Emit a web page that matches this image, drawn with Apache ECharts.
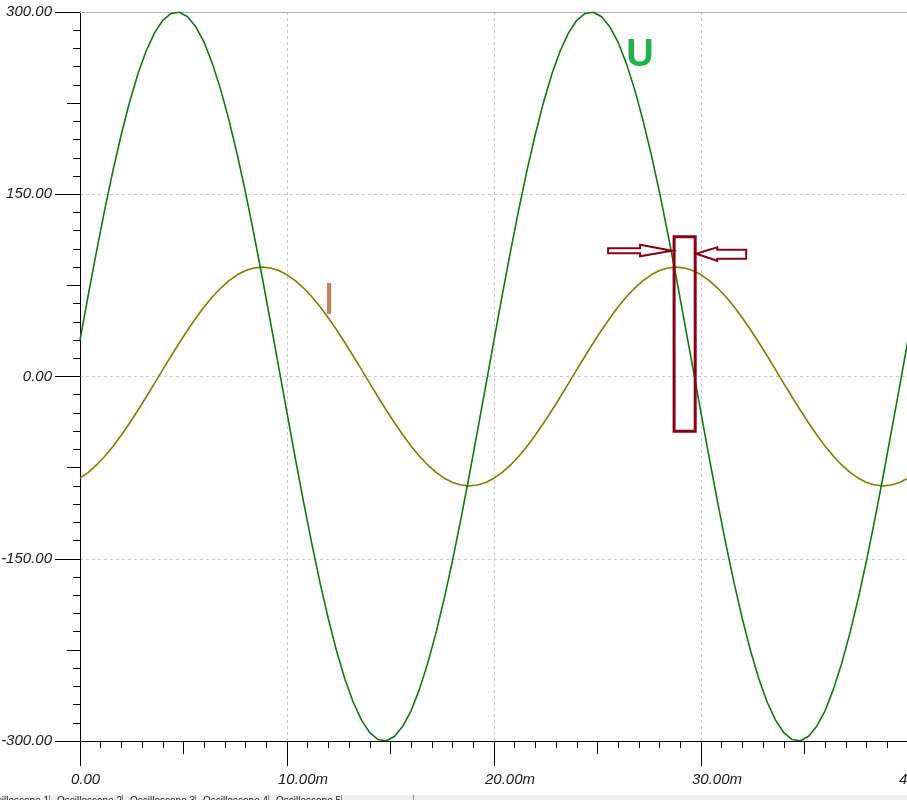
<!DOCTYPE html>
<html><head><meta charset="utf-8">
<script src="https://cdn.jsdelivr.net/npm/echarts@6/dist/echarts.min.js"></script>
<style>html,body{margin:0;padding:0;background:#fff}#c{width:907px;height:800px}</style>
</head><body><div id="c"></div>
<script>
// time in ms
const times = [0,0.4,0.8,1.2,1.6,2,2.4,2.8,3.2,3.6,
4,4.4,4.8,5.2,5.6,6,6.4,6.8,7.2,7.6,
8,8.4,8.8,9.2,9.6,10,10.4,10.8,11.2,11.6,
12,12.4,12.8,13.2,13.6,14,14.4,14.8,15.2,15.6,
16,16.4,16.8,17.2,17.6,18,18.4,18.8,19.2,19.6,
20,20.4,20.8,21.2,21.6,22,22.4,22.8,23.2,23.6,
24,24.4,24.8,25.2,25.6,26,26.4,26.8,27.2,27.6,
28,28.4,28.8,29.2,29.6,30,30.4,30.8,31.2,31.6,
32,32.4,32.8,33.2,33.6,34,34.4,34.8,35.2,35.6,
36,36.4,36.8,37.2,37.6,38,38.4,38.8,39.2,39.6,
40];
const voltageU = [30,67.1,103.2,137.7,170.1,199.6,226.2,249.1,268.1,282.8,
293.2,298.8,299.8,296.1,287.6,274.9,257.3,235.9,210.8,182.4,
151.2,117.4,81.9,45.0,7.7,-30,-67.1,-103.2,-137.7,-170.1,
-199.6,-226.2,-249.1,-268.1,-282.8,-293.2,-298.8,-299.8,-296.1,-287.6,
-274.9,-257.3,-235.9,-210.8,-182.4,-151.2,-117.4,-81.9,-45.0,-7.7,
30,67.1,103.2,137.7,170.1,199.6,226.2,249.1,268.1,282.8,
293.2,298.8,299.8,296.1,287.6,274.9,257.3,235.9,210.8,182.4,
151.2,117.4,81.9,45.0,7.7,-30,-67.1,-103.2,-137.7,-170.1,
-199.6,-226.2,-249.1,-268.1,-282.8,-293.2,-298.8,-299.8,-296.1,-287.6,
-274.9,-257.3,-235.9,-210.8,-182.4,-151.2,-117.4,-81.9,-45.0,-7.7,
30];
const currentI = [-83.7,-78.9,-72.8,-65.6,-57.4,-48.2,-38.3,-27.8,-16.9,-5.7,
5.7,16.9,27.8,38.3,48.2,57.4,65.6,72.8,78.9,83.7,
87.2,89.3,90,89.3,87.2,83.7,78.9,72.8,65.6,57.4,
48.2,38.3,27.8,16.9,5.7,-5.7,-16.9,-27.8,-38.3,-48.2,
-57.4,-65.6,-72.8,-78.9,-83.7,-87.2,-89.3,-90,-89.3,-87.2,
-83.7,-78.9,-72.8,-65.6,-57.4,-48.2,-38.3,-27.8,-16.9,-5.7,
5.7,16.9,27.8,38.3,48.2,57.4,65.6,72.8,78.9,83.7,
87.2,89.3,90,89.3,87.2,83.7,78.9,72.8,65.6,57.4,
48.2,38.3,27.8,16.9,5.7,-5.7,-16.9,-27.8,-38.3,-48.2,
-57.4,-65.6,-72.8,-78.9,-83.7,-87.2,-89.3,-90,-89.3,-87.2,
-83.7];
const xTickLabels = ['0.00','10.00m','20.00m','30.00m','40.00m'];
const tabNames = ['Oscilloscope 1','Oscilloscope 2','Oscilloscope 3','Oscilloscope 4','Oscilloscope 5'];
// annotation box in data coords (time ms, value)
const markBox = [[28.7,115],[29.72,-45]];

const chart = echarts.init(document.getElementById('c'), null, {renderer:'canvas'});
const labelFont = {fontFamily:'Liberation Sans, Arial, sans-serif', fontStyle:'italic', fontSize:15, color:'#1a1a1a'};
const black = {color:'#000', width:1};
const zip = (xs, ys) => xs.map((x,i)=>[x, ys[i]]);

const option = {
  animation:false,
  backgroundColor:'#fff',
  grid:{left:80, top:12, width:828, height:729, containLabel:false, outerBoundsMode:'none'},
  xAxis:[
    {type:'value', min:0, max:40, interval:10, position:'bottom',
     axisLine:{show:true, onZero:false, lineStyle:black},
     axisTick:{show:true, length:25, lineStyle:black},
     minorTick:{show:true, splitNumber:10, length:7, lineStyle:black},
     axisLabel:Object.assign({margin:31, align:'left', padding:[0,0,0,-9], hideOverlap:false,
       formatter:(v)=>xTickLabels[Math.round(v/10)]}, labelFont),
     splitLine:{show:true, showMinLine:false, showMaxLine:false, lineStyle:{color:'#c8c8c8', type:[3,3], width:1}}},
    {type:'value', min:0, max:40, interval:5, position:'bottom',
     axisLine:{show:false, onZero:false}, axisTick:{show:true, length:13, lineStyle:black},
     axisLabel:{show:false}, splitLine:{show:false}},
    {type:'value', min:0, max:40, interval:10, position:'top',
     axisLine:{show:true, onZero:false, lineStyle:{color:'#b4b4b4', width:1}}, axisTick:{show:false},
     axisLabel:{show:false}, splitLine:{show:false}}
  ],
  yAxis:[
    {type:'value', min:-300, max:300, interval:150, position:'left',
     axisLine:{show:true, onZero:false, lineStyle:black},
     axisTick:{show:true, length:25, lineStyle:black},
     minorTick:{show:true, splitNumber:10, length:7, lineStyle:black},
     axisLabel:Object.assign({margin:28, formatter:(v)=>v.toFixed(2)}, labelFont),
     splitLine:{show:true, showMinLine:false, showMaxLine:false, lineStyle:{color:'#c8c8c8', type:[3,3], width:1}}},
    {type:'value', min:-300, max:300, interval:75, position:'left',
     axisLine:{show:false, onZero:false}, axisTick:{show:true, length:13, lineStyle:black},
     axisLabel:{show:false}, splitLine:{show:false}}
  ],
  series:[
    {name:'I', type:'line', xAxisIndex:0, yAxisIndex:0, data:zip(times,currentI), showSymbol:false,
     lineStyle:{color:'#7f7f00', width:1.6}, itemStyle:{color:'#7f7f00'}},
    {name:'U', type:'line', xAxisIndex:0, yAxisIndex:0, data:zip(times,voltageU), showSymbol:false,
     lineStyle:{color:'#0e7a0e', width:1.6}, itemStyle:{color:'#0e7a0e'}}
  ]
};
chart.setOption(option);

// annotations
const p1 = chart.convertToPixel({xAxisIndex:0, yAxisIndex:0}, markBox[0]);
const p2 = chart.convertToPixel({xAxisIndex:0, yAxisIndex:0}, markBox[1]);
const rx = p1[0], ry = p1[1], rw = p2[0]-p1[0], rh = p2[1]-p1[1];
const dark = '#880015';
const ay = ry + 14;
const rr = rx + rw;
const gfx = [
  {type:'rect', shape:{x:rx, y:ry, width:rw, height:rh}, style:{fill:null, stroke:dark, lineWidth:3}, z:100},
  {type:'polygon', shape:{points:[[rx-66,ay-2.5],[rx-34,ay-2.5],[rx-34,ay-6],[rx-2,ay],[rx-34,ay+5.5],[rx-34,ay+2.5],[rx-66,ay+2.5]]},
   style:{fill:'#fff', stroke:dark, lineWidth:2}, z:100},
  {type:'polygon', shape:{points:[[rr+1,ay+3],[rr+22,ay-3.5],[rr+22,ay-1],[rr+51,ay-1],[rr+51,ay+8],[rr+22,ay+8],[rr+22,ay+10]]},
   style:{fill:'#fff', stroke:dark, lineWidth:2}, z:100},
  {type:'text', x:640, y:56, style:{text:'U', fill:'#22b14c', font:'bold 38px "Liberation Sans", Arial, sans-serif', align:'center', verticalAlign:'middle'}, z:100},
  {type:'text', x:329, y:302, style:{text:'I', fill:'#c08060', font:'44px "Liberation Sans", Arial, sans-serif', align:'center', verticalAlign:'middle'}, z:100},
  {type:'rect', shape:{x:0, y:795, width:907, height:5}, style:{fill:'#f0f0f0'}, z:90},
  {type:'line', shape:{x1:413.5, y1:795, x2:413.5, y2:800}, style:{stroke:'#888', lineWidth:1}, z:91}
];
tabNames.forEach((n,i)=>{
  gfx.push({type:'text', x:-16 + i*73, y:796, style:{text:n, fill:'#222', font:'10px "Liberation Sans", Arial, sans-serif', align:'left', verticalAlign:'top'}, z:91});
  gfx.push({type:'line', shape:{x1:49.5+i*73, y1:795, x2:49.5+i*73, y2:800}, style:{stroke:'#888', lineWidth:1}, z:91});
});
chart.setOption({graphic:gfx});
</script></body></html>
